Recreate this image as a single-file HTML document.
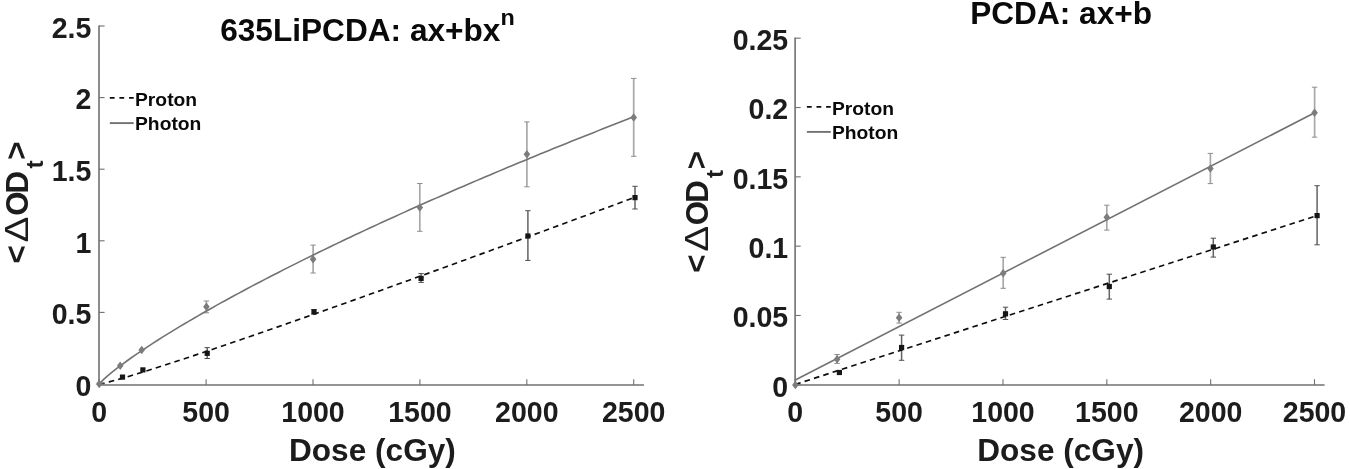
<!DOCTYPE html>
<html lang="en"><head><meta charset="utf-8"><title>Dose response: 635LiPCDA and PCDA</title>
<style>
html,body{margin:0;padding:0;background:#fff;}
body{width:1350px;height:469px;overflow:hidden;}
svg{display:block;filter:blur(0.3px);}
svg text{font-family:"Liberation Sans", sans-serif;font-weight:bold;}
</style></head><body>
<svg width="1350" height="469" viewBox="0 0 1350 469">
<rect width="1350" height="469" fill="#ffffff"/>
<line x1="206.40" y1="301.00" x2="206.40" y2="312.80" stroke="#a8a8a8" stroke-width="1.7" />
<line x1="203.70" y1="301.00" x2="209.10" y2="301.00" stroke="#8e8e8e" stroke-width="1" />
<line x1="203.70" y1="312.80" x2="209.10" y2="312.80" stroke="#8e8e8e" stroke-width="1" />
<line x1="313.10" y1="245.10" x2="313.10" y2="273.00" stroke="#a8a8a8" stroke-width="1.7" />
<line x1="310.40" y1="245.10" x2="315.80" y2="245.10" stroke="#8e8e8e" stroke-width="1" />
<line x1="310.40" y1="273.00" x2="315.80" y2="273.00" stroke="#8e8e8e" stroke-width="1" />
<line x1="419.80" y1="183.50" x2="419.80" y2="231.30" stroke="#a8a8a8" stroke-width="1.7" />
<line x1="417.10" y1="183.50" x2="422.50" y2="183.50" stroke="#8e8e8e" stroke-width="1" />
<line x1="417.10" y1="231.30" x2="422.50" y2="231.30" stroke="#8e8e8e" stroke-width="1" />
<line x1="526.90" y1="121.90" x2="526.90" y2="186.80" stroke="#a8a8a8" stroke-width="1.7" />
<line x1="524.20" y1="121.90" x2="529.60" y2="121.90" stroke="#8e8e8e" stroke-width="1" />
<line x1="524.20" y1="186.80" x2="529.60" y2="186.80" stroke="#8e8e8e" stroke-width="1" />
<line x1="633.70" y1="78.40" x2="633.70" y2="156.30" stroke="#a8a8a8" stroke-width="1.7" />
<line x1="631.00" y1="78.40" x2="636.40" y2="78.40" stroke="#8e8e8e" stroke-width="1" />
<line x1="631.00" y1="156.30" x2="636.40" y2="156.30" stroke="#8e8e8e" stroke-width="1" />
<line x1="207.20" y1="347.60" x2="207.20" y2="358.50" stroke="#626262" stroke-width="1.5" />
<line x1="204.50" y1="347.60" x2="209.90" y2="347.60" stroke="#505050" stroke-width="1" />
<line x1="204.50" y1="358.50" x2="209.90" y2="358.50" stroke="#505050" stroke-width="1" />
<line x1="314.00" y1="309.60" x2="314.00" y2="314.00" stroke="#626262" stroke-width="1.5" />
<line x1="311.30" y1="309.60" x2="316.70" y2="309.60" stroke="#505050" stroke-width="1" />
<line x1="311.30" y1="314.00" x2="316.70" y2="314.00" stroke="#505050" stroke-width="1" />
<line x1="421.10" y1="273.60" x2="421.10" y2="282.40" stroke="#626262" stroke-width="1.5" />
<line x1="418.40" y1="273.60" x2="423.80" y2="273.60" stroke="#505050" stroke-width="1" />
<line x1="418.40" y1="282.40" x2="423.80" y2="282.40" stroke="#505050" stroke-width="1" />
<line x1="527.90" y1="210.70" x2="527.90" y2="260.40" stroke="#626262" stroke-width="1.5" />
<line x1="525.20" y1="210.70" x2="530.60" y2="210.70" stroke="#505050" stroke-width="1" />
<line x1="525.20" y1="260.40" x2="530.60" y2="260.40" stroke="#505050" stroke-width="1" />
<line x1="635.00" y1="186.30" x2="635.00" y2="209.00" stroke="#626262" stroke-width="1.5" />
<line x1="632.30" y1="186.30" x2="637.70" y2="186.30" stroke="#505050" stroke-width="1" />
<line x1="632.30" y1="209.00" x2="637.70" y2="209.00" stroke="#505050" stroke-width="1" />
<path d="M99.20 384.00 L103.69 379.34 L108.18 375.38 L112.67 371.69 L117.17 368.17 L121.66 364.77 L126.15 361.48 L130.64 358.27 L135.13 355.13 L139.62 352.06 L144.12 349.04 L148.61 346.08 L153.10 343.16 L157.59 340.28 L162.08 337.44 L166.57 334.64 L171.07 331.87 L175.56 329.13 L180.05 326.42 L184.54 323.74 L189.03 321.09 L193.52 318.46 L198.02 315.86 L202.51 313.28 L207.00 310.72 L211.49 308.18 L215.98 305.66 L220.47 303.16 L224.96 300.68 L229.46 298.22 L233.95 295.78 L238.44 293.35 L242.93 290.94 L247.42 288.54 L251.91 286.16 L256.41 283.80 L260.90 281.44 L265.39 279.11 L269.88 276.78 L274.37 274.47 L278.86 272.18 L283.36 269.89 L287.85 267.62 L292.34 265.36 L296.83 263.11 L301.32 260.87 L305.81 258.65 L310.31 256.43 L314.80 254.23 L319.29 252.04 L323.78 249.85 L328.27 247.68 L332.76 245.52 L337.25 243.36 L341.75 241.22 L346.24 239.08 L350.73 236.96 L355.22 234.84 L359.71 232.73 L364.20 230.64 L368.70 228.54 L373.19 226.46 L377.68 224.39 L382.17 222.32 L386.66 220.27 L391.15 218.22 L395.65 216.17 L400.14 214.14 L404.63 212.11 L409.12 210.09 L413.61 208.08 L418.10 206.08 L422.59 204.08 L427.09 202.09 L431.58 200.10 L436.07 198.13 L440.56 196.16 L445.05 194.19 L449.54 192.24 L454.04 190.29 L458.53 188.34 L463.02 186.40 L467.51 184.47 L472.00 182.55 L476.49 180.63 L480.99 178.71 L485.48 176.81 L489.97 174.90 L494.46 173.01 L498.95 171.12 L503.44 169.23 L507.94 167.36 L512.43 165.48 L516.92 163.61 L521.41 161.75 L525.90 159.89 L530.39 158.04 L534.88 156.20 L539.38 154.36 L543.87 152.52 L548.36 150.69 L552.85 148.86 L557.34 147.04 L561.83 145.23 L566.33 143.41 L570.82 141.61 L575.31 139.81 L579.80 138.01 L584.29 136.22 L588.78 134.43 L593.28 132.65 L597.77 130.87 L602.26 129.10 L606.75 127.33 L611.24 125.56 L615.73 123.80 L620.23 122.05 L624.72 120.29 L629.21 118.55 L633.70 116.80" fill="none" stroke="#727272" stroke-width="1.6"/>
<path d="M99.20 384.00 L104.61 383.02 L110.03 381.67 L115.44 380.20 L120.85 378.67 L126.27 377.09 L131.68 375.47 L137.09 373.83 L142.50 372.16 L147.92 370.47 L153.33 368.76 L158.74 367.04 L164.16 365.30 L169.57 363.55 L174.98 361.78 L180.40 360.01 L185.81 358.23 L191.22 356.44 L196.63 354.64 L202.05 352.83 L207.46 351.01 L212.87 349.19 L218.29 347.36 L223.70 345.52 L229.11 343.68 L234.53 341.83 L239.94 339.98 L245.35 338.12 L250.76 336.26 L256.18 334.39 L261.59 332.51 L267.00 330.64 L272.42 328.76 L277.83 326.87 L283.24 324.98 L288.66 323.09 L294.07 321.19 L299.48 319.29 L304.90 317.39 L310.31 315.48 L315.72 313.57 L321.13 311.66 L326.55 309.74 L331.96 307.82 L337.37 305.90 L342.79 303.97 L348.20 302.05 L353.61 300.12 L359.03 298.18 L364.44 296.25 L369.85 294.31 L375.26 292.37 L380.68 290.43 L386.09 288.48 L391.50 286.54 L396.92 284.59 L402.33 282.64 L407.74 280.68 L413.16 278.73 L418.57 276.77 L423.98 274.81 L429.39 272.85 L434.81 270.88 L440.22 268.92 L445.63 266.95 L451.05 264.98 L456.46 263.01 L461.87 261.04 L467.29 259.07 L472.70 257.09 L478.11 255.11 L483.52 253.13 L488.94 251.15 L494.35 249.17 L499.76 247.19 L505.18 245.20 L510.59 243.21 L516.00 241.23 L521.42 239.24 L526.83 237.25 L532.24 235.25 L537.66 233.26 L543.07 231.26 L548.48 229.27 L553.89 227.27 L559.31 225.27 L564.72 223.27 L570.13 221.27 L575.55 219.26 L580.96 217.26 L586.37 215.25 L591.79 213.25 L597.20 211.24 L602.61 209.23 L608.02 207.22 L613.44 205.21 L618.85 203.20 L624.26 201.18 L629.68 199.17 L635.09 197.15" fill="none" stroke="#0d0d0d" stroke-width="1.65" stroke-dasharray="5.6 4.2"/>
<line x1="99.00" y1="25.40" x2="99.00" y2="385.70" stroke="#707070" stroke-width="1.6" />
<line x1="98.30" y1="385.00" x2="644.00" y2="385.00" stroke="#707070" stroke-width="1.4000000000000001" />
<line x1="99.20" y1="385.00" x2="99.20" y2="379.20" stroke="#707070" stroke-width="1.1" />
<line x1="206.10" y1="385.00" x2="206.10" y2="379.20" stroke="#707070" stroke-width="1.1" />
<line x1="313.00" y1="385.00" x2="313.00" y2="379.20" stroke="#707070" stroke-width="1.1" />
<line x1="419.90" y1="385.00" x2="419.90" y2="379.20" stroke="#707070" stroke-width="1.1" />
<line x1="526.80" y1="385.00" x2="526.80" y2="379.20" stroke="#707070" stroke-width="1.1" />
<line x1="633.70" y1="385.00" x2="633.70" y2="379.20" stroke="#707070" stroke-width="1.1" />
<line x1="99.00" y1="384.00" x2="104.60" y2="384.00" stroke="#707070" stroke-width="1.1" />
<line x1="99.00" y1="312.40" x2="104.60" y2="312.40" stroke="#707070" stroke-width="1.1" />
<line x1="99.00" y1="240.80" x2="104.60" y2="240.80" stroke="#707070" stroke-width="1.1" />
<line x1="99.00" y1="169.20" x2="104.60" y2="169.20" stroke="#707070" stroke-width="1.1" />
<line x1="99.00" y1="97.60" x2="104.60" y2="97.60" stroke="#707070" stroke-width="1.1" />
<line x1="99.00" y1="26.00" x2="104.60" y2="26.00" stroke="#707070" stroke-width="1.1" />
<text transform="translate(99.20 421.80) scale(1.037 1.07)" font-size="27.5" text-anchor="middle" fill="#1c1c1c" >0</text>
<text transform="translate(206.10 421.80) scale(1.037 1.07)" font-size="27.5" text-anchor="middle" fill="#1c1c1c" >500</text>
<text transform="translate(313.00 421.80) scale(1.037 1.07)" font-size="27.5" text-anchor="middle" fill="#1c1c1c" >1000</text>
<text transform="translate(419.90 421.80) scale(1.037 1.07)" font-size="27.5" text-anchor="middle" fill="#1c1c1c" >1500</text>
<text transform="translate(526.80 421.80) scale(1.037 1.07)" font-size="27.5" text-anchor="middle" fill="#1c1c1c" >2000</text>
<text transform="translate(633.70 421.80) scale(1.037 1.07)" font-size="27.5" text-anchor="middle" fill="#1c1c1c" >2500</text>
<text transform="translate(91.30 395.80) scale(1.037 1.07)" font-size="27.5" text-anchor="end" fill="#1c1c1c" >0</text>
<text transform="translate(91.30 324.20) scale(1.037 1.07)" font-size="27.5" text-anchor="end" fill="#1c1c1c" >0.5</text>
<text transform="translate(91.30 252.60) scale(1.037 1.07)" font-size="27.5" text-anchor="end" fill="#1c1c1c" >1</text>
<text transform="translate(91.30 181.00) scale(1.037 1.07)" font-size="27.5" text-anchor="end" fill="#1c1c1c" >1.5</text>
<text transform="translate(91.30 109.40) scale(1.037 1.07)" font-size="27.5" text-anchor="end" fill="#1c1c1c" >2</text>
<text transform="translate(91.30 37.80) scale(1.037 1.07)" font-size="27.5" text-anchor="end" fill="#1c1c1c" >2.5</text>
<rect x="119.90" y="374.50" width="5.2" height="5.2" fill="#161616"/>
<rect x="140.30" y="367.30" width="5.2" height="5.2" fill="#161616"/>
<rect x="204.60" y="350.70" width="5.2" height="5.2" fill="#161616"/>
<rect x="311.40" y="309.20" width="5.2" height="5.2" fill="#161616"/>
<rect x="418.50" y="275.80" width="5.2" height="5.2" fill="#161616"/>
<rect x="525.30" y="233.40" width="5.2" height="5.2" fill="#161616"/>
<rect x="632.40" y="195.00" width="5.2" height="5.2" fill="#161616"/>
<path d="M99.20 379.80L102.50 384.00L99.20 388.20L95.90 384.00Z" fill="#7c7c7c"/>
<path d="M120.20 361.60L123.50 365.80L120.20 370.00L116.90 365.80Z" fill="#7c7c7c"/>
<path d="M141.70 345.80L145.00 350.00L141.70 354.20L138.40 350.00Z" fill="#7c7c7c"/>
<path d="M206.40 302.60L209.70 306.80L206.40 311.00L203.10 306.80Z" fill="#7c7c7c"/>
<path d="M313.10 255.10L316.40 259.30L313.10 263.50L309.80 259.30Z" fill="#7c7c7c"/>
<path d="M419.80 203.30L423.10 207.50L419.80 211.70L416.50 207.50Z" fill="#7c7c7c"/>
<path d="M526.90 150.10L530.20 154.30L526.90 158.50L523.60 154.30Z" fill="#7c7c7c"/>
<path d="M633.70 113.30L637.00 117.50L633.70 121.70L630.40 117.50Z" fill="#7c7c7c"/>
<line x1="109.80" y1="97.90" x2="133.70" y2="97.90" stroke="#0d0d0d" stroke-width="1.9" stroke-dasharray="4.8 4.8"/>
<line x1="109.80" y1="123.10" x2="133.70" y2="123.10" stroke="#727272" stroke-width="1.9" />
<text transform="translate(135.00 105.60) scale(1.037 1)" font-size="18.6" text-anchor="start" fill="#0a0a0a" >Proton</text>
<text transform="translate(135.00 130.00) scale(1.037 1)" font-size="18.6" text-anchor="start" fill="#0a0a0a" >Photon</text>
<text transform="translate(220.20 40.60) scale(1.037 1)" font-size="30.5" text-anchor="start" fill="#0a0a0a" >635LiPCDA: ax+bx<tspan dy="-15.5" dx="0" font-size="22.6">n</tspan></text>
<text transform="translate(372.40 460.80) scale(1.037 1)" font-size="30.5" text-anchor="middle" fill="#1c1c1c" >Dose (cGy)</text>
<g transform="translate(27.70,263.40) rotate(-90) scale(1.02 1)" fill="#1c1c1c">
<text x="0" y="-1.2" font-size="30.5">&lt;</text>
<text transform="translate(20.6 0) scale(1.17 1)" font-size="32.5" style="font-weight:normal">Δ</text>
<text x="46.699999999999996" y="0" font-size="30.5">O<tspan dx="-1.8">D</tspan></text>
<text x="93.0" y="15.5" font-size="24">t</text>
<text x="101.5" y="-1.2" font-size="30.5">&gt;</text>
</g>
<line x1="837.10" y1="354.50" x2="837.10" y2="363.40" stroke="#a8a8a8" stroke-width="1.7" />
<line x1="834.40" y1="354.50" x2="839.80" y2="354.50" stroke="#8e8e8e" stroke-width="1" />
<line x1="834.40" y1="363.40" x2="839.80" y2="363.40" stroke="#8e8e8e" stroke-width="1" />
<line x1="899.10" y1="312.30" x2="899.10" y2="323.10" stroke="#a8a8a8" stroke-width="1.7" />
<line x1="896.40" y1="312.30" x2="901.80" y2="312.30" stroke="#8e8e8e" stroke-width="1" />
<line x1="896.40" y1="323.10" x2="901.80" y2="323.10" stroke="#8e8e8e" stroke-width="1" />
<line x1="1003.20" y1="257.30" x2="1003.20" y2="288.30" stroke="#a8a8a8" stroke-width="1.7" />
<line x1="1000.50" y1="257.30" x2="1005.90" y2="257.30" stroke="#8e8e8e" stroke-width="1" />
<line x1="1000.50" y1="288.30" x2="1005.90" y2="288.30" stroke="#8e8e8e" stroke-width="1" />
<line x1="1106.80" y1="205.20" x2="1106.80" y2="230.10" stroke="#a8a8a8" stroke-width="1.7" />
<line x1="1104.10" y1="205.20" x2="1109.50" y2="205.20" stroke="#8e8e8e" stroke-width="1" />
<line x1="1104.10" y1="230.10" x2="1109.50" y2="230.10" stroke="#8e8e8e" stroke-width="1" />
<line x1="1210.40" y1="153.40" x2="1210.40" y2="183.60" stroke="#a8a8a8" stroke-width="1.7" />
<line x1="1207.70" y1="153.40" x2="1213.10" y2="153.40" stroke="#8e8e8e" stroke-width="1" />
<line x1="1207.70" y1="183.60" x2="1213.10" y2="183.60" stroke="#8e8e8e" stroke-width="1" />
<line x1="1314.60" y1="87.20" x2="1314.60" y2="137.20" stroke="#a8a8a8" stroke-width="1.7" />
<line x1="1311.90" y1="87.20" x2="1317.30" y2="87.20" stroke="#8e8e8e" stroke-width="1" />
<line x1="1311.90" y1="137.20" x2="1317.30" y2="137.20" stroke="#8e8e8e" stroke-width="1" />
<line x1="901.60" y1="335.10" x2="901.60" y2="360.30" stroke="#626262" stroke-width="1.5" />
<line x1="898.90" y1="335.10" x2="904.30" y2="335.10" stroke="#505050" stroke-width="1" />
<line x1="898.90" y1="360.30" x2="904.30" y2="360.30" stroke="#505050" stroke-width="1" />
<line x1="1005.50" y1="307.20" x2="1005.50" y2="319.50" stroke="#626262" stroke-width="1.5" />
<line x1="1002.80" y1="307.20" x2="1008.20" y2="307.20" stroke="#505050" stroke-width="1" />
<line x1="1002.80" y1="319.50" x2="1008.20" y2="319.50" stroke="#505050" stroke-width="1" />
<line x1="1109.30" y1="274.20" x2="1109.30" y2="299.10" stroke="#626262" stroke-width="1.5" />
<line x1="1106.60" y1="274.20" x2="1112.00" y2="274.20" stroke="#505050" stroke-width="1" />
<line x1="1106.60" y1="299.10" x2="1112.00" y2="299.10" stroke="#505050" stroke-width="1" />
<line x1="1213.30" y1="238.20" x2="1213.30" y2="257.10" stroke="#626262" stroke-width="1.5" />
<line x1="1210.60" y1="238.20" x2="1216.00" y2="238.20" stroke="#505050" stroke-width="1" />
<line x1="1210.60" y1="257.10" x2="1216.00" y2="257.10" stroke="#505050" stroke-width="1" />
<line x1="1317.10" y1="185.70" x2="1317.10" y2="244.80" stroke="#626262" stroke-width="1.5" />
<line x1="1314.40" y1="185.70" x2="1319.80" y2="185.70" stroke="#505050" stroke-width="1" />
<line x1="1314.40" y1="244.80" x2="1319.80" y2="244.80" stroke="#505050" stroke-width="1" />
<line x1="795.30" y1="380.00" x2="1314.60" y2="112.80" stroke="#727272" stroke-width="1.6" />
<line x1="795.30" y1="384.40" x2="1317.10" y2="215.60" stroke="#0d0d0d" stroke-width="1.65" stroke-dasharray="5.6 4.2"/>
<line x1="795.10" y1="37.60" x2="795.10" y2="385.70" stroke="#707070" stroke-width="1.6" />
<line x1="794.40" y1="385.00" x2="1324.60" y2="385.00" stroke="#707070" stroke-width="1.4000000000000001" />
<line x1="795.30" y1="385.00" x2="795.30" y2="379.20" stroke="#707070" stroke-width="1.1" />
<line x1="899.14" y1="385.00" x2="899.14" y2="379.20" stroke="#707070" stroke-width="1.1" />
<line x1="1002.98" y1="385.00" x2="1002.98" y2="379.20" stroke="#707070" stroke-width="1.1" />
<line x1="1106.82" y1="385.00" x2="1106.82" y2="379.20" stroke="#707070" stroke-width="1.1" />
<line x1="1210.66" y1="385.00" x2="1210.66" y2="379.20" stroke="#707070" stroke-width="1.1" />
<line x1="1314.50" y1="385.00" x2="1314.50" y2="379.20" stroke="#707070" stroke-width="1.1" />
<line x1="795.10" y1="384.80" x2="800.70" y2="384.80" stroke="#707070" stroke-width="1.1" />
<line x1="795.10" y1="315.48" x2="800.70" y2="315.48" stroke="#707070" stroke-width="1.1" />
<line x1="795.10" y1="246.16" x2="800.70" y2="246.16" stroke="#707070" stroke-width="1.1" />
<line x1="795.10" y1="176.84" x2="800.70" y2="176.84" stroke="#707070" stroke-width="1.1" />
<line x1="795.10" y1="107.52" x2="800.70" y2="107.52" stroke="#707070" stroke-width="1.1" />
<line x1="795.10" y1="38.20" x2="800.70" y2="38.20" stroke="#707070" stroke-width="1.1" />
<text transform="translate(795.30 421.80) scale(1.037 1.07)" font-size="27.5" text-anchor="middle" fill="#1c1c1c" >0</text>
<text transform="translate(899.14 421.80) scale(1.037 1.07)" font-size="27.5" text-anchor="middle" fill="#1c1c1c" >500</text>
<text transform="translate(1002.98 421.80) scale(1.037 1.07)" font-size="27.5" text-anchor="middle" fill="#1c1c1c" >1000</text>
<text transform="translate(1106.82 421.80) scale(1.037 1.07)" font-size="27.5" text-anchor="middle" fill="#1c1c1c" >1500</text>
<text transform="translate(1210.66 421.80) scale(1.037 1.07)" font-size="27.5" text-anchor="middle" fill="#1c1c1c" >2000</text>
<text transform="translate(1314.50 421.80) scale(1.037 1.07)" font-size="27.5" text-anchor="middle" fill="#1c1c1c" >2500</text>
<text transform="translate(788.20 396.60) scale(1.037 1.07)" font-size="27.5" text-anchor="end" fill="#1c1c1c" >0</text>
<text transform="translate(788.20 327.28) scale(1.037 1.07)" font-size="27.5" text-anchor="end" fill="#1c1c1c" >0.05</text>
<text transform="translate(788.20 257.96) scale(1.037 1.07)" font-size="27.5" text-anchor="end" fill="#1c1c1c" >0.1</text>
<text transform="translate(788.20 188.64) scale(1.037 1.07)" font-size="27.5" text-anchor="end" fill="#1c1c1c" >0.15</text>
<text transform="translate(788.20 119.32) scale(1.037 1.07)" font-size="27.5" text-anchor="end" fill="#1c1c1c" >0.2</text>
<text transform="translate(788.20 50.00) scale(1.037 1.07)" font-size="27.5" text-anchor="end" fill="#1c1c1c" >0.25</text>
<rect x="836.80" y="369.90" width="5.2" height="5.2" fill="#161616"/>
<rect x="899.00" y="344.90" width="5.2" height="5.2" fill="#161616"/>
<rect x="1002.90" y="311.20" width="5.2" height="5.2" fill="#161616"/>
<rect x="1106.70" y="283.90" width="5.2" height="5.2" fill="#161616"/>
<rect x="1210.70" y="244.40" width="5.2" height="5.2" fill="#161616"/>
<rect x="1314.50" y="213.00" width="5.2" height="5.2" fill="#161616"/>
<path d="M795.40 380.80L798.70 385.00L795.40 389.20L792.10 385.00Z" fill="#7c7c7c"/>
<path d="M837.10 355.10L840.40 359.30L837.10 363.50L833.80 359.30Z" fill="#7c7c7c"/>
<path d="M899.10 313.50L902.40 317.70L899.10 321.90L895.80 317.70Z" fill="#7c7c7c"/>
<path d="M1003.20 269.00L1006.50 273.20L1003.20 277.40L999.90 273.20Z" fill="#7c7c7c"/>
<path d="M1106.80 213.10L1110.10 217.30L1106.80 221.50L1103.50 217.30Z" fill="#7c7c7c"/>
<path d="M1210.40 164.30L1213.70 168.50L1210.40 172.70L1207.10 168.50Z" fill="#7c7c7c"/>
<path d="M1314.60 108.60L1317.90 112.80L1314.60 117.00L1311.30 112.80Z" fill="#7c7c7c"/>
<line x1="806.90" y1="106.90" x2="830.80" y2="106.90" stroke="#0d0d0d" stroke-width="1.9" stroke-dasharray="4.8 4.8"/>
<line x1="806.90" y1="131.90" x2="830.80" y2="131.90" stroke="#727272" stroke-width="1.9" />
<text transform="translate(831.90 114.70) scale(1.037 1)" font-size="18.6" text-anchor="start" fill="#0a0a0a" >Proton</text>
<text transform="translate(831.90 139.30) scale(1.037 1)" font-size="18.6" text-anchor="start" fill="#0a0a0a" >Photon</text>
<text transform="translate(970.20 24.20) scale(1.037 1)" font-size="30.5" text-anchor="start" fill="#0a0a0a" >PCDA: ax+b</text>
<text transform="translate(1060.60 460.80) scale(1.037 1)" font-size="30.5" text-anchor="middle" fill="#1c1c1c" >Dose (cGy)</text>
<g transform="translate(707.70,272.80) rotate(-90) scale(1.02 1)" fill="#1c1c1c">
<text x="0" y="-1.2" font-size="30.5">&lt;</text>
<text transform="translate(20.6 0) scale(1.17 1)" font-size="32.5" style="font-weight:normal">Δ</text>
<text x="46.699999999999996" y="0" font-size="30.5">O<tspan dx="-1.8">D</tspan></text>
<text x="93.0" y="15.5" font-size="24">t</text>
<text x="101.5" y="-1.2" font-size="30.5">&gt;</text>
</g>
</svg>
</body></html>
